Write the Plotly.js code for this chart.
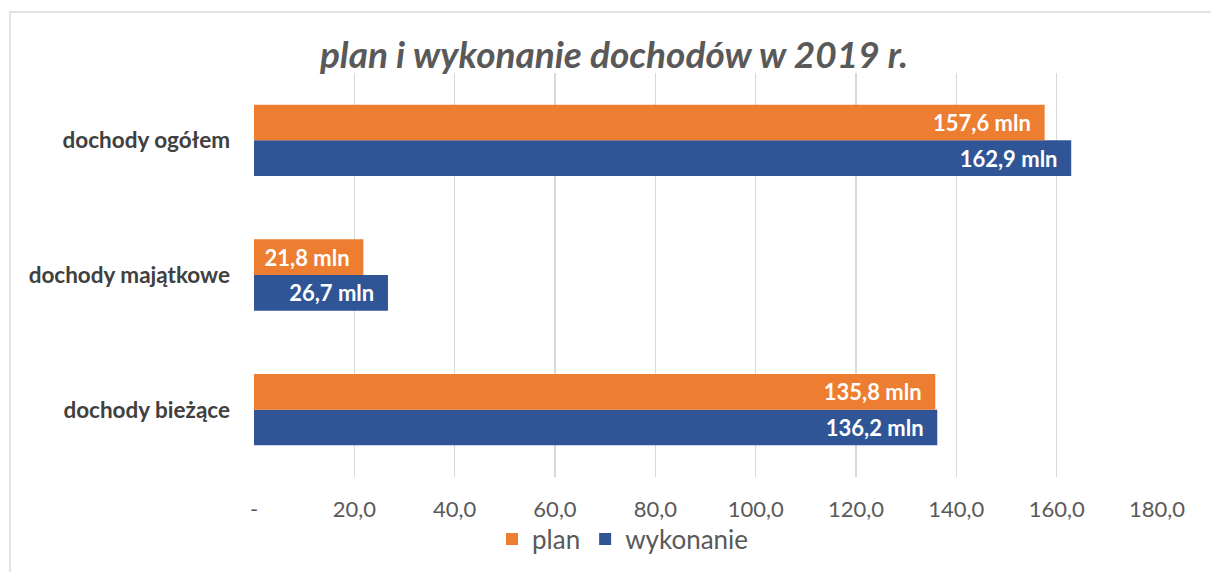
<!DOCTYPE html>
<html><head><meta charset="utf-8">
<script src="https://cdn.plot.ly/plotly-3.0.1.min.js"></script>
<style>html,body{margin:0;padding:0;background:#fff}#chart{width:1211px;height:572px}</style>
</head><body><div id="chart"></div>
<script>
const categories = ["dochody bieżące", "dochody majątkowe", "dochody ogółem"];
const planValues = [135.8, 21.8, 157.6];
const wykonanieValues = [136.2, 26.7, 162.9];
const tickValues = [0, 20, 40, 60, 80, 100, 120, 140, 160, 180];
const tickLabels = ["-", "20,0", "40,0", "60,0", "80,0", "100,0", "120,0", "140,0", "160,0", "180,0"];

const FONT = "Lato, 'Open Sans', sans-serif";
const labelFont = {family: FONT, size: 22, color: "#ffffff", weight: "bold"};

const traces = [
  {type: "bar", orientation: "h", name: "wykonanie", y: categories, x: wykonanieValues,
   marker: {color: "#2F5597"}, texttemplate: "<b>%{x:.1f} mln</b>\u00a0\u00a0", textposition: "inside",
   insidetextanchor: "end", textfont: labelFont, constraintext: "none", legendrank: 2, hoverinfo: "skip"},
  {type: "bar", orientation: "h", name: "plan", y: categories, x: planValues,
   marker: {color: "#ED7D31"}, texttemplate: "<b>%{x:.1f} mln</b>\u00a0\u00a0", textposition: "inside",
   insidetextanchor: "end", textfont: labelFont, constraintext: "none", legendrank: 1, hoverinfo: "skip"}
];

const layout = {
  width: 1211, height: 572,
  margin: {l: 254, r: 54, t: 73, b: 95},
  paper_bgcolor: "#ffffff", plot_bgcolor: "#ffffff",
  separators: ", ",
  barmode: "group", bargap: 0.47, bargroupgap: 0,
  font: {family: FONT, color: "#595959"},
  title: {text: "<b><i>plan i wykonanie dochodów w 2019 r.</i></b>", font: {family: FONT, size: 37, color: "#595959"},
          x: 614/1211, xref: "container", xanchor: "center", y: 1 - 55/572, yref: "container", yanchor: "middle"},
  xaxis: {range: [0, 180], tickvals: tickValues, ticktext: tickLabels, showgrid: true, gridcolor: "#d9d9d9", gridwidth: 1.3,
          zeroline: false, showline: false, ticks: "", ticklabelstandoff: 17,
          tickfont: {family: FONT, size: 22, color: "#595959"}, fixedrange: true},
  yaxis: {showgrid: false, zeroline: false, showline: false, ticks: "", ticklabelstandoff: 23,
          tickfont: {family: FONT, size: 22.5, color: "#404040", weight: "bold"}, fixedrange: true},
  showlegend: true,
  legend: {orientation: "h", xref: "container", x: 623/1211, xanchor: "center", yref: "container", y: 1 - 539/572, yanchor: "middle",
           bgcolor: "rgba(0,0,0,0)", font: {family: FONT, size: 26, color: "#595959"}, traceorder: "normal", itemwidth: 30},
  shapes: [{type: "rect", xref: "paper", yref: "paper", x0: (10-254)/903, x1: (1225-254)/903, y0: (477-590)/404, y1: (477-12)/404,
            line: {color: "#d9d9d9", width: 1.5}, fillcolor: "rgba(0,0,0,0)", layer: "below"}]
};

Plotly.newPlot("chart", traces, layout, {displayModeBar: false, staticPlot: true});
</script></body></html>
